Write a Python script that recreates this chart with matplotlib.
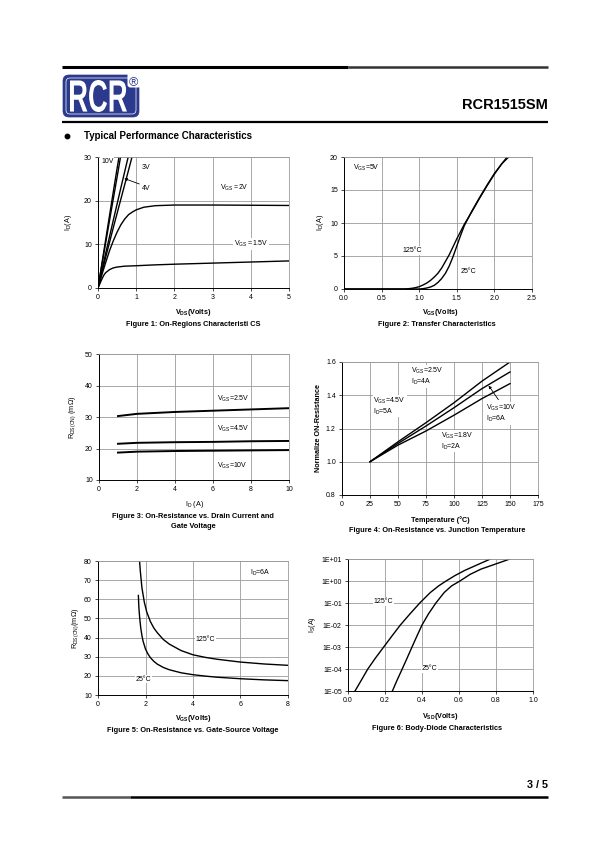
import numpy as np
import matplotlib
matplotlib.use("Agg")
import matplotlib.pyplot as plt
from matplotlib.patches import FancyBboxPatch, PathPatch
from matplotlib.textpath import TextPath
from matplotlib.font_manager import FontProperties
from matplotlib.transforms import Affine2D
from matplotlib.ticker import FormatStrFormatter, FuncFormatter, FixedLocator

plt.rcParams['font.family'] = ['Liberation Sans', 'DejaVu Sans']
plt.rcParams['mathtext.fontset'] = 'custom'
plt.rcParams['mathtext.rm'] = 'Liberation Sans'
plt.rcParams['mathtext.it'] = 'Liberation Sans:italic'
plt.rcParams['mathtext.bf'] = 'Liberation Sans:bold'

# ---------------- data ----------------
# Figure 1: On-region characteristics (VDS, ID)
f1_vgs10_vds = [0, 0.1, 0.2, 0.3, 0.4, 0.5, 0.55]
f1_vgs10_id = [0, 5.5, 11, 16.5, 22, 27.4, 30]
f1_vgs5_vds = [0, 0.1, 0.2, 0.3, 0.4, 0.5, 0.59]
f1_vgs5_id = [0, 5.2, 10.3, 15.4, 20.4, 25.4, 30]
f1_vgs4_vds = [0, 0.2, 0.4, 0.6, 0.79]
f1_vgs4_id = [0, 7.9, 15.5, 23, 30]
f1_vgs3_vds = [0, 0.2, 0.4, 0.6, 0.8, 0.89]
f1_vgs3_id = [0, 7.0, 13.8, 20.4, 27.0, 30]
f1_vgs2_vds = [0, 0.1, 0.2, 0.3, 0.4, 0.5, 0.6, 0.7, 0.8, 0.9, 1.0, 1.2, 1.5, 2, 3, 4, 5]
f1_vgs2_id = [0, 3, 5.8, 8.5, 10.8, 12.8, 14.5, 15.8, 16.8, 17.4, 17.9, 18.5, 18.85, 19.0, 19.0, 18.95, 18.9]
f1_vgs15_vds = [0, 0.05, 0.1, 0.15, 0.2, 0.3, 0.4, 0.5, 0.7, 1, 1.5, 2, 3, 4, 5]
f1_vgs15_id = [0, 1.0, 2.0, 2.9, 3.5, 4.2, 4.6, 4.8, 5.0, 5.1, 5.3, 5.45, 5.7, 5.95, 6.2]

# Figure 2: Transfer characteristics (VGS, ID)
f2_125_vgs = [0, 0.8, 0.85, 0.9, 0.95, 1.0, 1.05, 1.1, 1.15, 1.2, 1.25, 1.3, 1.35, 1.4,
              1.45, 1.5, 1.55, 1.6, 1.7, 1.8, 1.9, 2.0, 2.1, 2.17]
f2_125_id = [0, 0, 0.04, 0.1, 0.2, 0.35, 0.6, 0.9, 1.3, 1.8, 2.4, 3.2, 4.2, 5.2,
             6.4, 7.6, 8.7, 9.8, 11.7, 13.7, 15.6, 17.4, 19.0, 20]
f2_25_vgs = [0, 1.0, 1.05, 1.1, 1.15, 1.2, 1.25, 1.3, 1.35, 1.4, 1.45, 1.5, 1.55, 1.6,
             1.7, 1.8, 1.9, 2.0, 2.1, 2.19]
f2_25_id = [0, 0, 0.05, 0.15, 0.3, 0.55, 1.0, 1.6, 2.4, 3.5, 4.9, 6.5, 8.1, 9.6,
            11.8, 13.8, 15.7, 17.5, 19.0, 20]

# Figure 3: RDS(on) vs ID
f3_id = [1, 2, 4, 6, 8, 10]
f3_vgs25 = [30.3, 31.0, 31.6, 32.0, 32.4, 32.8]
f3_vgs45 = [21.5, 21.8, 22.0, 22.1, 22.3, 22.4]
f3_vgs10 = [18.7, 19.0, 19.2, 19.3, 19.4, 19.5]

# Figure 4: Normalized RDS(on) vs temperature
f4_temp = [25, 50, 75, 100, 125, 150]
f4_top = [1.0, 1.12, 1.235, 1.355, 1.485, 1.60]
f4_mid = [1.0, 1.11, 1.215, 1.325, 1.44, 1.54]
f4_bot = [1.0, 1.10, 1.185, 1.28, 1.38, 1.47]

# Figure 5: RDS(on) vs VGS
f5_25_vgs = [1.7, 1.72, 1.75, 1.8, 1.85, 1.9, 2.0, 2.1, 2.2, 2.35, 2.5, 2.75, 3, 3.5,
             4, 4.5, 5, 6, 7, 8]
f5_25_r = [62, 56, 51, 45, 41, 38, 34, 31.5, 29.6, 27.6, 26.1, 24.4, 23.2, 21.6,
           20.6, 19.9, 19.3, 18.5, 17.9, 17.5]
f5_125_vgs = [1.75, 1.78, 1.85, 1.95, 2.05, 2.2, 2.35, 2.5, 2.75, 3, 3.5, 4, 4.5, 5,
              6, 7, 8]
f5_125_r = [80, 75, 66, 58.5, 53.5, 48.5, 45, 42.5, 39, 36.6, 33.2, 31, 29.7, 28.7,
            27.2, 26.2, 25.5]

# Figure 6: Body-diode characteristics (VSD, IS)
f6_125_vsd = [0.038, 0.073, 0.107, 0.149, 0.193, 0.238, 0.283, 0.335, 0.388, 0.445,
              0.49, 0.53, 0.58, 0.63, 0.7, 0.77]
f6_125_is = [1e-5, 3.2e-5, 1e-4, 3.2e-4, 1e-3, 3.2e-3, 1e-2, 3.2e-2, 1e-1, 0.3,
             0.6, 1.0, 1.8, 3.0, 5.5, 10]
f6_25_vsd = [0.24, 0.266, 0.293, 0.32, 0.346, 0.373, 0.40, 0.435, 0.475, 0.52,
             0.56, 0.605, 0.66, 0.72, 0.8, 0.875]
f6_25_is = [1e-5, 3.2e-5, 1e-4, 3.2e-4, 1e-3, 3.2e-3, 1e-2, 3.2e-2, 1e-1, 0.3,
            0.6, 1.0, 2.0, 3.5, 6.0, 10]

# ---------------- figure ----------------
W, H = 595, 842
fig = plt.figure(figsize=(W / 100, H / 100), dpi=100)
fig.patch.set_facecolor('white')

ov = fig.add_axes([0, 0, 1, 1])
ov.set_xlim(0, W)
ov.set_ylim(H, 0)
ov.axis('off')


def add_ax(l, t, r, b):
    return fig.add_axes([l / W, 1 - b / H, (r - l) / W, (b - t) / H])


def style(ax):
    ax.grid(True, color='#9a9a9a', lw=0.6)
    ax.set_axisbelow(True)
    for s in ['top', 'right']:
        ax.spines[s].set_color('#9a9a9a')
        ax.spines[s].set_linewidth(0.6)
    for s in ['left', 'bottom']:
        ax.spines[s].set_color('black')
        ax.spines[s].set_linewidth(0.7)
    ax.tick_params(labelsize=5, length=2, width=0.5, pad=2.5, colors='black')


LW = 1.0
BOX = dict(facecolor='white', edgecolor='none', pad=0.6)
TS = 5

# Figure 1
ax1 = add_ax(98, 157, 289, 288)
style(ax1)
ax1.plot(f1_vgs10_vds, f1_vgs10_id, color='black', lw=LW)
ax1.plot(f1_vgs5_vds, f1_vgs5_id, color='black', lw=LW)
ax1.plot(f1_vgs4_vds, f1_vgs4_id, color='black', lw=LW)
ax1.plot(f1_vgs3_vds, f1_vgs3_id, color='black', lw=LW)
ax1.plot(f1_vgs2_vds, f1_vgs2_id, color='black', lw=LW)
ax1.plot(f1_vgs15_vds, f1_vgs15_id, color='black', lw=LW)
ax1.set_xlim(0, 5)
ax1.set_ylim(0, 30)
ax1.set_xticks(range(0, 6))
ax1.set_yticks([0, 10, 20, 30])
ax1.text(0.08, 29.0, '10V', fontsize=TS, va='center', bbox=BOX)
ax1.text(1.15, 27.5, '3V', fontsize=TS, va='center', bbox=BOX)
ax1.text(1.15, 22.9, '4V', fontsize=TS, va='center', bbox=BOX)
ax1.annotate('', xy=(0.62, 25.3), xytext=(1.15, 23.6),
             arrowprops=dict(arrowstyle='-|>', color='black', lw=0.6, mutation_scale=4))
ax1.text(3.2, 22.9, r'V$_{\rm GS}$ =2V', fontsize=TS, va='center', bbox=BOX)
ax1.text(3.55, 10.1, r'V$_{\rm GS}$ =1.5V', fontsize=TS, va='center', bbox=BOX)

# Figure 2
ax2 = add_ax(344, 157, 532, 289)
style(ax2)
ax2.plot(f2_125_vgs, f2_125_id, color='black', lw=LW)
ax2.plot(f2_25_vgs, f2_25_id, color='black', lw=LW)
ax2.set_xlim(0, 2.5)
ax2.set_ylim(0, 20)
ax2.set_xticks([0, 0.5, 1.0, 1.5, 2.0, 2.5])
ax2.set_yticks([0, 5, 10, 15, 20])
ax2.xaxis.set_major_formatter(FormatStrFormatter('%.1f'))
ax2.text(0.12, 18.3, r'V$_{\rm GS}$=5V', fontsize=TS, va='center', bbox=BOX)
ax2.text(0.78, 5.8, '125°C', fontsize=TS, va='center', bbox=BOX)
ax2.text(1.55, 2.6, '25°C', fontsize=TS, va='center', bbox=BOX)

# Figure 3
ax3 = add_ax(99, 354, 289, 480)
style(ax3)
ax3.plot(f3_id, f3_vgs25, color='black', lw=1.4)
ax3.plot(f3_id, f3_vgs45, color='black', lw=1.4)
ax3.plot(f3_id, f3_vgs10, color='black', lw=1.4)
ax3.set_xlim(0, 10)
ax3.set_ylim(10, 50)
ax3.set_xticks(range(0, 11, 2))
ax3.set_yticks(range(10, 51, 10))
ax3.text(6.2, 35.7, r'V$_{\rm GS}$=2.5V', fontsize=TS, va='center', bbox=BOX)
ax3.text(6.2, 26.2, r'V$_{\rm GS}$=4.5V', fontsize=TS, va='center', bbox=BOX)
ax3.text(6.2, 14.4, r'V$_{\rm GS}$=10V', fontsize=TS, va='center', bbox=BOX)

# Figure 4
ax4 = add_ax(342, 362, 538, 495)
style(ax4)
ax4.plot(f4_temp, f4_top, color='black', lw=LW)
ax4.plot(f4_temp, f4_mid, color='black', lw=LW)
ax4.plot(f4_temp, f4_bot, color='black', lw=LW)
ax4.set_xlim(0, 175)
ax4.set_ylim(0.8, 1.6)
ax4.set_xticks(range(0, 176, 25))
ax4.set_yticks([0.8, 1.0, 1.2, 1.4, 1.6])
ax4.yaxis.set_major_formatter(FormatStrFormatter('%.1f'))
ax4.text(62, 1.515, 'V$_{\\rm GS}$=2.5V\nI$_{\\rm D}$=4A', fontsize=TS, va='center',
         linespacing=1.1, bbox=BOX)
ax4.text(28, 1.335, 'V$_{\\rm GS}$=4.5V\nI$_{\\rm D}$=5A', fontsize=TS, va='center',
         linespacing=1.1, bbox=BOX)
ax4.text(129, 1.29, 'V$_{\\rm GS}$=10V\nI$_{\\rm D}$=6A', fontsize=TS, va='center',
         linespacing=1.1, bbox=BOX)
ax4.text(88, 1.125, 'V$_{\\rm GS}$=1.8V\nI$_{\\rm D}$=2A', fontsize=TS, va='center',
         linespacing=1.1, bbox=BOX)
ax4.annotate('', xy=(129.5, 1.472), xytext=(141, 1.36),
             arrowprops=dict(arrowstyle='-|>', color='black', lw=0.6, mutation_scale=4))

# Figure 5
ax5 = add_ax(98, 561, 288, 695)
style(ax5)
ax5.plot(f5_125_vgs, f5_125_r, color='black', lw=LW)
ax5.plot(f5_25_vgs, f5_25_r, color='black', lw=LW)
ax5.set_xlim(0, 8)
ax5.set_ylim(10, 80)
ax5.set_xticks(range(0, 9, 2))
ax5.set_yticks(range(10, 81, 10))
ax5.text(6.4, 73.7, r'I$_{\rm D}$=6A', fontsize=TS, va='center', bbox=BOX)
ax5.text(4.1, 39.2, '125°C', fontsize=TS, va='center', bbox=BOX)
ax5.text(1.6, 18.3, '25°C', fontsize=TS, va='center', bbox=BOX)

# Figure 6
ax6 = add_ax(348, 559, 533, 691)
style(ax6)
ax6.set_yscale('log')
ax6.plot(f6_125_vsd, f6_125_is, color='black', lw=LW)
ax6.plot(f6_25_vsd, f6_25_is, color='black', lw=LW)
ax6.set_xlim(0, 1.0)
ax6.set_ylim(1e-5, 10)
ax6.set_xticks([0, 0.2, 0.4, 0.6, 0.8, 1.0])
ax6.xaxis.set_major_formatter(FormatStrFormatter('%.1f'))
ax6.yaxis.set_major_locator(FixedLocator([1e-5, 1e-4, 1e-3, 1e-2, 1e-1, 1, 10]))
ax6.yaxis.set_minor_locator(FixedLocator([]))
ax6.yaxis.set_major_formatter(FuncFormatter(lambda v, p: '1E%+03d' % int(round(np.log10(v)))))
ax6.text(0.14, 0.12, '125°C', fontsize=TS, va='center', bbox=BOX)
ax6.text(0.4, 1e-4, '25°C', fontsize=TS, va='center', bbox=BOX)

# ---------------- axis labels & captions (page coordinates) ----------------
LS = 5.2
CS = 5.3
ov.text(193, 312, r'$\mathbf{V_{DS}}$(Volts)', fontsize=LS, fontweight='bold', ha='center', va='center')
ov.text(193, 325, 'Figure 1: On-Regions Characteristi CS', fontsize=CS, fontweight='bold', ha='center', va='center')
ov.text(68, 222, r'I$_{\rm D}$(A)', fontsize=LS, rotation=90, ha='center', va='center')

ov.text(440, 312, r'$\mathbf{V_{GS}}$(Volts)', fontsize=LS, fontweight='bold', ha='center', va='center')
ov.text(437, 325, 'Figure 2: Transfer Characteristics', fontsize=CS, fontweight='bold', ha='center', va='center')
ov.text(320, 222, r'I$_{\rm D}$(A)', fontsize=LS, rotation=90, ha='center', va='center')

ov.text(195, 504, r'I$_{\rm D}$ (A)', fontsize=LS, ha='center', va='center')
ov.text(193, 516, 'Figure 3: On-Resistance vs. Drain Current and', fontsize=CS, fontweight='bold', ha='center', va='center')
ov.text(193, 527, 'Gate Voltage', fontsize=CS, fontweight='bold', ha='center', va='center')
ov.text(73, 417, r'R$_{\rm DS(ON)}$ (m$\Omega$)', fontsize=LS, rotation=90, ha='center', va='center')

ov.text(440, 520, 'Temperature (°C)', fontsize=LS, fontweight='bold', ha='center', va='center')
ov.text(437, 531, 'Figure 4: On-Resistance vs. Junction Temperature', fontsize=CS, fontweight='bold', ha='center', va='center')
ov.text(318, 428, 'Normalize ON-Resistance', fontsize=LS, fontweight='bold', rotation=90, ha='center', va='center')

ov.text(193, 719, r'$\mathbf{V_{GS}}$(Volts)', fontsize=LS, fontweight='bold', ha='center', va='center')
ov.text(193, 731, 'Figure 5: On-Resistance vs. Gate-Source Voltage', fontsize=CS, fontweight='bold', ha='center', va='center')
ov.text(76, 628, r'R$_{\rm DS(ON)}$(m$\Omega$)', fontsize=LS, rotation=90, ha='center', va='center')

ov.text(440, 716, r'$\mathbf{V_{SD}}$(Volts)', fontsize=LS, fontweight='bold', ha='center', va='center')
ov.text(437, 728, 'Figure 6: Body-Diode Characteristics', fontsize=CS, fontweight='bold', ha='center', va='center')
ov.text(313, 625, r'I$_{\rm S}$(A)', fontsize=LS, rotation=90, ha='center', va='center')

# ---------------- page header / footer ----------------
ov.plot([62, 348], [67, 67], color='black', lw=2.2, solid_capstyle='butt')
ov.plot([348, 548], [67, 67], color='#333333', lw=1.8, solid_capstyle='butt')
ov.plot([62, 548], [122, 122], color='black', lw=1.6, solid_capstyle='butt')

navy = '#2b3a8c'
ov.add_patch(FancyBboxPatch((63, 75), 76, 42, boxstyle='round,pad=0,rounding_size=6',
                            facecolor=navy, edgecolor=navy, lw=0.5))
ov.add_patch(FancyBboxPatch((127.5, 72), 14, 15.5, boxstyle='round,pad=0,rounding_size=3',
                            facecolor='white', edgecolor='none'))
ov.add_patch(FancyBboxPatch((66, 78), 70, 36, boxstyle='round,pad=0,rounding_size=4',
                            facecolor='none', edgecolor='white', lw=0.5))
tp = TextPath((0, 0), 'RCR', size=1, prop=FontProperties(family='Liberation Sans', weight='bold'))
ext = tp.get_extents()
sx = 57 / ext.width
sy = 32 / ext.height
tr = Affine2D().translate(-ext.x0, -ext.y0).scale(sx, -sy).translate(70, 112)
ov.add_patch(PathPatch(tr.transform_path(tp), facecolor='white', edgecolor='none'))
ov.text(133.5, 83, '®', fontsize=9, color=navy, ha='center', va='center')

ov.text(548, 105, 'RCR1515SM', fontsize=10.5, fontweight='bold', ha='right', va='center')
ov.plot([67], [136], marker='o', color='black', ms=3.2)
ov.text(84, 136, 'Typical Performance Characteristics', fontsize=7, fontweight='bold',
        ha='left', va='center')

ov.text(548, 785, '3 / 5', fontsize=7.8, fontweight='bold', ha='right', va='center')
ov.plot([62, 130], [797, 797], color='#555555', lw=1.8, solid_capstyle='butt')
ov.plot([130, 548], [797, 797], color='black', lw=1.8, solid_capstyle='butt')

fig.savefig('out.png', dpi=100)
